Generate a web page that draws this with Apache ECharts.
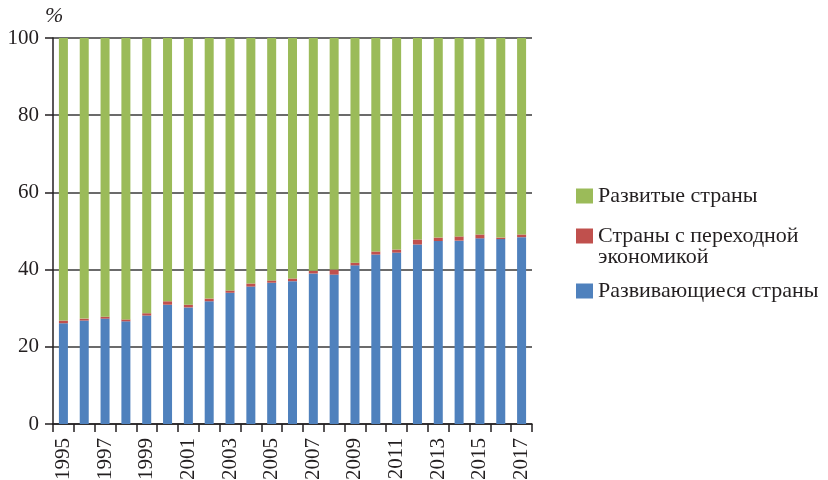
<!DOCTYPE html>
<html>
<head>
<meta charset="utf-8">
<title>Доля стран</title>
<script src="https://cdn.jsdelivr.net/npm/echarts@6/dist/echarts.min.js"></script>
<style>
  html, body { margin: 0; padding: 0; background: #fff; }
  #chart { width: 828px; height: 480px; }
</style>
</head>
<body>
<div id="chart"></div>
<script>
// годы
var years = ['1995','1996','1997','1998','1999','2000','2001','2002','2003','2004','2005','2006',
             '2007','2008','2009','2010','2011','2012','2013','2014','2015','2016','2017'];
// развивающиеся страны, %
var developing = [26.1, 26.8, 27.3, 26.6, 28.1, 30.9, 30.2, 31.8, 34.0, 35.6, 36.6, 37.0,
                  39.0, 38.7, 41.1, 43.9, 44.4, 46.5, 47.4, 47.5, 48.1, 47.9, 48.4];
// страны с переходной экономикой, %
var transition = [0.7, 0.5, 0.5, 0.5, 0.6, 0.9, 0.7, 0.7, 0.6, 0.8, 0.6, 0.7,
                  0.7, 1.3, 0.7, 0.8, 0.8, 1.3, 0.9, 1.1, 1.0, 0.4, 0.7];
// развитые страны = остаток до 100
var developed = developing.map(function (v, i) {
    return +(100 - v - transition[i]).toFixed(1);
});
var yTicks = [0, 20, 40, 60, 80, 100];

var serif = '"Liberation Serif", "DejaVu Serif", serif';
var ink = '#231f20';

// одна легенда на каждую серию, чтобы поставить их как в оригинале
function legendAt(top, name, label) {
    return {
        orient: 'vertical',
        left: 576,
        top: top,
        padding: 0,
        itemWidth: 17,
        itemHeight: 15,
        icon: 'rect',
        textStyle: { fontFamily: serif, fontSize: 22, color: ink, lineHeight: 21 },
        data: [name],
        formatter: function () { return label; }
    };
}

var chart = echarts.init(document.getElementById('chart'));
chart.setOption({
    animation: false,
    textStyle: { fontFamily: serif, color: ink },
    grid: { left: 53, right: 296, top: 38, bottom: 56, outerBoundsMode: 'none' },
    legend: [
        legendAt(185, 'Развитые страны', 'Развитые страны'),
        legendAt(204, 'Страны с переходной экономикой', '\nСтраны с переходной\nэкономикой'),
        legendAt(280, 'Развивающиеся страны', 'Развивающиеся страны')
    ],
    xAxis: {
        type: 'category',
        data: years,
        axisLine: { lineStyle: { color: ink, width: 1.5 } },
        axisTick: { show: true, interval: 0, length: 8, lineStyle: { color: ink, width: 1.5 } },
        axisLabel: { interval: 1, rotate: 90, fontSize: 21, fontFamily: serif, color: ink, margin: 14 }
    },
    yAxis: {
        type: 'value',
        min: yTicks[0],
        max: yTicks[yTicks.length - 1],
        interval: 20,
        name: '%',
        nameLocation: 'end',
        nameGap: 11,
        nameTextStyle: { fontFamily: serif, fontSize: 22, fontStyle: 'italic', color: ink, align: 'left', padding: [0, 0, 0, -8] },
        axisLine: { show: true, lineStyle: { color: ink, width: 1.5 } },
        axisTick: { show: true, length: 8, lineStyle: { color: ink, width: 1.5 } },
        axisLabel: { fontSize: 21, fontFamily: serif, color: ink, margin: 14 },
        splitLine: { lineStyle: { color: '#3a3a3a', width: 1.5 } }
    },
    series: [
        {
            name: 'Развивающиеся страны',
            type: 'bar',
            stack: 'all',
            barWidth: 9,
            itemStyle: { color: '#4f81bd' },
            data: developing
        },
        {
            name: 'Страны с переходной экономикой',
            type: 'bar',
            stack: 'all',
            barWidth: 9,
            itemStyle: { color: '#c0504d' },
            data: transition
        },
        {
            name: 'Развитые страны',
            type: 'bar',
            stack: 'all',
            barWidth: 9,
            itemStyle: { color: '#9bbb59' },
            data: developed
        }
    ]
});
</script>
</body>
</html>
